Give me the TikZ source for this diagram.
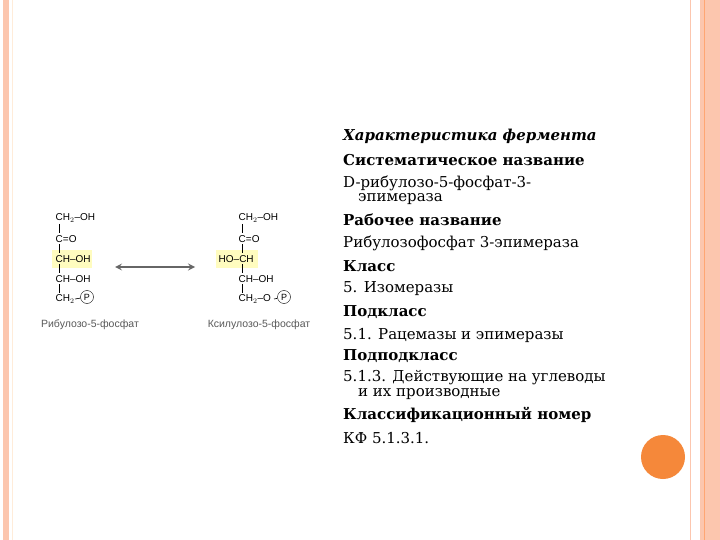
\documentclass[tikz,border=0pt]{standalone}
\usepackage{fontspec}
\setmainfont{DejaVu Serif}
\newfontfamily\chemf{Liberation Sans}
\definecolor{salmon}{HTML}{FCC6AE}
\definecolor{ballc}{HTML}{F5883A}
\begin{document}
\begin{tikzpicture}[x=1pt,y=-1pt,
 txt/.style={anchor=west,inner sep=0pt,font=\fontsize{15}{17}\selectfont},
 ch/.style={inner sep=0.5pt,font=\chemf\fontsize{10}{11}\selectfont},
 lab/.style={inner sep=0pt,font=\chemf\fontsize{10.5}{11}\selectfont,text=black!65},
 bnd/.style={black,line width=0.6pt},
 pcirc/.style={draw,circle,minimum size=13pt,inner sep=0pt,font=\chemf\fontsize{9}{9}\selectfont}]
\useasboundingbox (0,0) rectangle (720,540);
\fill[white] (0,0) rectangle (720,540);
% borders
\fill[salmon] (3,0) rectangle (9,540);
\draw[orange!15,line width=0.6pt] (12,0) -- (12,540);
\draw[salmon,line width=1pt] (690,0) -- (690,540);
\fill[salmon] (700,0) rectangle (720,540);
\draw[orange!40!pink,line width=0.8pt] (704,0) -- (704,540);
\fill[ballc] (663,457) circle (22);
% highlights
\fill[yellow!25] (52,250) rectangle (92,268);
\fill[yellow!25] (216,250) rectangle (258,268);
% left molecule
\node[ch,anchor=west] (l1) at (55,218) {CH$_2$–OH};
\node[ch,anchor=west] (l2) at (55,239) {C=O};
\node[ch,anchor=west] (l3) at (55,259) {CH–OH};
\node[ch,anchor=west] (l4) at (55,279) {CH–OH};
\node[ch,anchor=west] (l5) at (55,299) {CH$_2$};
\node[pcirc] (lp) at (87,297) {P};
\draw[bnd] (75,299) -- (lp);
\draw[bnd] (59,224) -- (59,233);
\draw[bnd] (59,244) -- (59,253);
\draw[bnd] (59,264) -- (59,273);
\draw[bnd] (59,284) -- (59,293);
\node[lab] (ln) at (90,325) {Рибулозо-5-фосфат};
% right molecule
\node[ch,anchor=west] (r1) at (238,218) {CH$_2$–OH};
\node[ch,anchor=west] (r2) at (238,239) {C=O};
\node[ch,anchor=west] (r3) at (218,259) {HO–CH};
\node[ch,anchor=west] (r4) at (238,279) {CH–OH};
\node[ch,anchor=west] (r5) at (238,299) {CH$_2$–O};
\node[pcirc] (rp) at (284,297) {P};
\draw[bnd] (274,299) -- (rp);
\draw[bnd] (242,224) -- (242,233);
\draw[bnd] (242,244) -- (242,253);
\draw[bnd] (242,264) -- (242,273);
\draw[bnd] (242,284) -- (242,293);
\node[lab] (rn) at (259,325) {Ксилулозо-5-фосфат};
% arrow
\coordinate (aL) at (115,267);
\coordinate (aR) at (195,267);
\draw[black!60,line width=2pt,<->,>=stealth] (aL) -- (aR);
% text
\node[txt] (t1) at (343,136) {\itshape\bfseries Характеристика фермента};
\node[txt] (t2) at (343,160) {\bfseries Систематическое название};
\node[txt] (t3) at (343,183) {D-рибулозо-5-фосфат-3-};
\node[txt] (t3b) at (358,199) {эпимераза};
\node[txt] (t4) at (343,220) {\bfseries Рабочее название};
\node[txt] (t5) at (343,243) {Рибулозофосфат 3-эпимераза};
\node[txt] (t6) at (343,266) {\bfseries Класс};
\node[txt] (t7) at (343,289) {5. Изомеразы};
\node[txt] (t8) at (343,312) {\bfseries Подкласс};
\node[txt] (t9) at (343,335) {5.1. Рацемазы и эпимеразы};
\node[txt] (t10) at (343,356) {\bfseries Подподкласс};
\node[txt] (t11) at (343,378) {5.1.3. Действующие на углеводы};
\node[txt] (t11b) at (358,394) {и их производные};
\node[txt] (t12) at (343,415) {\bfseries Классификационный номер};
\node[txt] (t13) at (343,438) {КФ 5.1.3.1.};
\end{tikzpicture}
\end{document}
